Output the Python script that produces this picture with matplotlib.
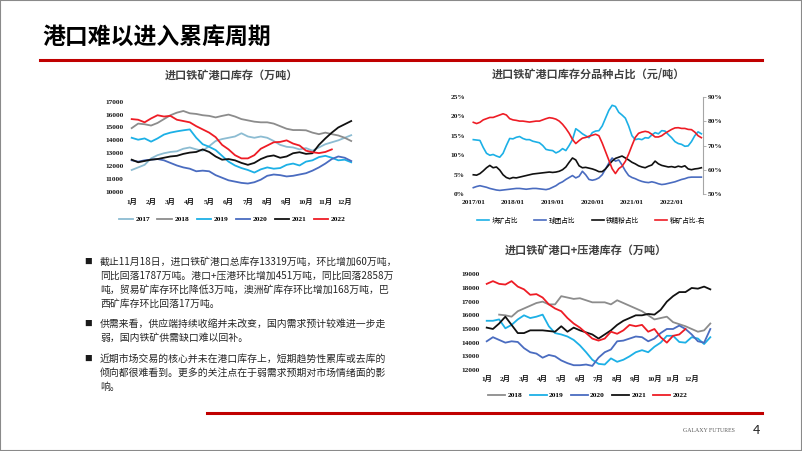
import numpy as np
import matplotlib
matplotlib.use("Agg")
import matplotlib.pyplot as plt
from matplotlib.patches import Rectangle
from matplotlib.lines import Line2D

plt.rcParams['font.family'] = ['Liberation Serif', 'Noto Sans CJK SC']
plt.rcParams['axes.unicode_minus'] = False

W, H = 802, 451
SANS = ['Noto Sans CJK SC', 'DejaVu Sans']
SERIF = ['Liberation Serif', 'Noto Sans CJK SC']

# ---------------- data ----------------
months = ['1月', '2月', '3月', '4月', '5月', '6月', '7月', '8月', '9月', '10月', '11月', '12月']

# chart 1: port inventory (10k t), sampled every third of a month from 1月
years1 = ['2017', '2018', '2019', '2020', '2021', '2022']
inv17 = [11700, 11900, 12100, 12600, 12850, 13000, 13100, 13150, 13350, 13450, 13300, 13200,
         13550, 13950, 14100, 14200, 14300, 14550, 14300, 14200, 14300, 14200, 13950, 13650,
         13500, 13450, 13300, 13400, 13200, 13450, 13700, 13850, 14000, 14200, 14400]
inv18 = [14950, 15300, 15250, 15150, 15350, 15650, 15950, 16150, 16280, 16100, 16050, 15950,
         15900, 15780, 15900, 16000, 15850, 15650, 15550, 15450, 15400, 15400, 15300, 15100,
         14900, 14800, 14800, 14780, 14600, 14480, 14600, 14480, 14380, 14200, 13950]
inv19 = [14200, 14050, 14150, 13900, 14150, 14450, 14600, 14700, 14780, 14850, 14200, 13700,
         13500, 13250, 12800, 12350, 12050, 11850, 11700, 11500, 11750, 11900, 11800, 11850,
         12100, 12200, 12050, 12350, 12450, 12700, 12800, 12650, 12450, 12500, 12300]
inv20 = [12450, 12350, 12450, 12500, 12550, 12450, 12250, 12050, 11900, 11800, 11600, 11650,
         11600, 11300, 11100, 10900, 10800, 10700, 10650, 10750, 10950, 11250, 11350, 11300,
         11200, 11250, 11350, 11450, 11650, 11900, 12200, 12550, 12750, 12650, 12400]
inv21 = [12500, 12300, 12400, 12500, 12550, 12650, 12750, 12800, 12950, 13050, 13100, 13300,
         13100, 12750, 12500, 12550, 12450, 12250, 12100, 12250, 12550, 12750, 12830, 12650,
         12750, 13000, 13080, 12950, 13000, 13650, 14150, 14600, 15000, 15250, 15500]
inv22 = [15650, 15600, 15400, 15700, 15950, 15850, 15900, 15600, 15500, 15400, 15100, 14850,
         14600, 14250, 13650, 13300, 12850, 12600, 12600, 12850, 13350, 13600, 13850, 13880,
         14000, 13750, 13600, 13200, 13080, 13010, 13100, 13300]

# chart 2: share by type (%), monthly from 2017/01
share_ticks = ['2017/01', '2018/01', '2019/01', '2020/01', '2021/01', '2022/01']
lump = [14.0, 13.9, 13.8, 12.0, 10.5, 10.0, 10.2, 9.8, 9.5, 10.5,
        12.5, 14.3, 14.2, 14.6, 14.8, 14.3, 14.0, 14.0, 13.6, 13.4,
        13.2, 12.5, 11.5, 11.3, 11.2, 10.6, 11.0, 11.7, 11.2, 12.5,
        14.0, 16.8, 16.2, 15.5, 15.0, 14.5, 15.8, 16.2, 16.3, 17.5,
        19.5, 21.5, 22.8, 22.5, 21.0, 20.3, 19.5, 17.5, 15.0, 14.0,
        14.2, 14.0, 14.5, 14.4, 15.2, 15.8, 15.5, 16.3, 16.2, 15.3,
        14.5, 13.5, 13.0, 12.8, 12.3, 12.4, 13.5, 15.0, 16.0, 15.5]
pellet = [1.7, 2.0, 2.2, 2.0, 1.8, 1.5, 1.3, 1.1, 1.0, 1.1,
          1.2, 1.3, 1.4, 1.5, 1.5, 1.4, 1.3, 1.4, 1.5, 1.5,
          1.4, 1.3, 1.2, 1.4, 1.8, 2.2, 2.8, 3.2, 3.8, 4.3,
          4.8, 4.2, 4.6, 5.9, 5.0, 3.8, 3.6, 3.8, 4.2, 5.0,
          6.5, 8.0, 9.3, 8.5, 8.8, 7.5, 6.0, 4.8, 4.3, 4.0,
          3.6, 3.3, 3.1, 3.0, 3.2, 3.0, 2.7, 2.5, 2.6, 2.8,
          3.0, 3.2, 3.5, 3.8, 4.0, 4.3, 4.4, 4.4, 4.4, 4.4]
concentrate = [5.0, 4.9, 5.3, 6.0, 6.8, 7.4, 6.8, 7.0, 6.2, 5.0,
               4.3, 4.0, 4.3, 4.2, 4.4, 4.6, 4.8, 5.0, 5.2, 5.3,
               5.4, 5.5, 5.6, 5.7, 5.6, 5.7, 5.9, 6.3, 7.0, 8.2,
               9.3, 8.8, 7.3, 6.8, 6.9, 6.7, 6.5, 6.2, 5.8, 5.8,
               6.5, 7.5, 8.5, 9.2, 9.5, 9.8, 9.3, 8.8, 8.2, 7.8,
               7.3, 7.0, 6.8, 7.2, 7.5, 8.5, 7.8, 7.4, 7.2, 7.0,
               7.1, 6.9, 7.2, 7.0, 7.3, 6.5, 6.3, 6.5, 6.6, 6.8]
fines = [79.5, 79.0, 79.5, 80.5, 81.0, 81.5, 81.5, 82.0, 82.5, 83.0,
         82.5, 81.0, 80.5, 80.3, 80.0, 80.0, 79.8, 79.6, 79.8, 80.0,
         80.0, 80.5, 81.0, 81.4, 81.2, 80.8, 80.0, 78.7, 77.0, 75.0,
         72.5, 70.8, 72.0, 73.0, 73.3, 73.8, 74.2, 74.6, 74.0, 71.0,
         67.5, 64.0, 60.5, 58.5, 60.5, 61.5, 63.5, 66.5, 70.0, 73.3,
         75.0, 75.5, 75.8, 75.5, 74.6, 73.5, 73.5, 74.0, 75.0, 75.8,
         76.6, 77.2, 77.3, 77.0, 77.0, 76.6, 76.5, 75.5, 74.0, 73.2]

# chart 3: port + waiting-at-port inventory (10k t), every third of a month
years3 = ['2018', '2019', '2020', '2021', '2022']
port18 = [np.nan, np.nan, 16050, 16000, 15900, 16300, 16500, 16700, 16900, 17000, 16800, 16800,
          17400, 17300, 17200, 17250, 17100, 16950, 16950, 16950, 16800, 17100, 16900, 16700,
          16500, 16300, 16000, 15700, 15800, 15900, 15500, 15350, 15200, 15000, 14800, 14900, 15400]
port19 = [15600, 15600, 15700, 15050, 15300, 15700, 16000, 15800, 15900, 16050, 15200, 14700,
          14600, 14450, 14200, 13800, 13300, 12750, 12450, 12400, 12850, 12600, 12750, 13000,
          13300, 13450, 13300, 13700, 14000, 14500, 14500, 14050, 14000, 14400, 14300, 13900, 14400]
port20 = [14100, 14400, 14200, 14000, 14100, 14050, 13600, 13300, 13200, 12900, 13100, 13000,
          12700, 12500, 12350, 12350, 12400, 12300, 12900, 13300, 13500, 14100, 14150, 14300,
          14450, 14400, 14100, 14300, 14700, 15000, 15000, 15250, 15000, 14600, 14100, 14000, 15000]
port21 = [15100, 15000, 15400, 15900, 15300, 14700, 14700, 14900, 14900, 14900, 14850, 14800,
          15200, 14800, 15100, 14900, 14750, 14600, 14300, 14600, 14900, 15300, 15600, 15800,
          16000, 16000, 16100, 16050, 16400, 17000, 17400, 17700, 17700, 18000, 17950, 18100, 17900]
port22 = [18300, 18500, 18300, 18250, 18500, 18100, 17900, 17500, 17550, 17300, 16800, 16500,
          16300, 15800, 15400, 15100, 14700, 14300, 14150, 14300, 14800, 14650, 14900, 15300,
          15200, 15300, 14800, 15000, 14400, 14000, 14500, 14600, 15000]

year_colors = {'2017': '#8cbcd2', '2018': '#8c8c8c', '2019': '#1cb0e6',
               '2020': '#4a6cc0', '2021': '#111111', '2022': '#ee1c25'}

bullets = [
    ['截止11月18日，进口铁矿港口总库存13319万吨，环比增加60万吨，',
     '同比回落1787万吨。港口+压港环比增加451万吨，同比回落2858万',
     '吨，贸易矿库存环比降低3万吨，澳洲矿库存环比增加168万吨，巴',
     '西矿库存环比回落17万吨。'],
    ['供需来看，供应端持续收缩并未改变，国内需求预计较难进一步走',
     '弱，国内铁矿供需缺口难以回补。'],
    ['近期市场交易的核心并未在港口库存上，短期趋势性累库或去库的',
     '倾向都很难看到。更多的关注点在于弱需求预期对市场情绪面的影',
     '响。'],
]

# ---------------- figure ----------------
fig = plt.figure(figsize=(W / 100, H / 100), dpi=100)


def px_axes(l, t, r, b):
    return fig.add_axes([l / W, 1 - b / H, (r - l) / W, (b - t) / H])


def fxy(x, y):
    return x / W, 1 - y / H


def clean(ax, labelsize=5.3, ypad=2, xpad=4.4):
    for s in ax.spines.values():
        s.set_visible(False)
    ax.tick_params(axis='both', length=0, labelsize=labelsize, colors='#1a1a1a')
    ax.tick_params(axis='y', pad=ypad)
    ax.tick_params(axis='x', pad=xpad)
    for lab in ax.get_xticklabels() + ax.get_yticklabels():
        lab.set_fontweight('bold')
    ax.patch.set_alpha(0)


def legend(ax, handles, labels, x, y, hl=2.0, cs=1.0, size=5.3, weight='bold'):
    lg = ax.legend(handles, labels, loc='center', bbox_to_anchor=fxy(x, y),
                   bbox_transform=fig.transFigure, ncol=len(labels), frameon=False,
                   handlelength=hl, handletextpad=0.3, columnspacing=cs, borderpad=0,
                   prop={'family': SERIF, 'size': size, 'weight': weight})
    return lg


# slide decorations
fig.patches.append(Rectangle((0, 0), 1, 1, transform=fig.transFigure, fill=False,
                             ec='#8a8a8a', lw=1.5))
fig.add_artist(Line2D([40 / W, 762 / W], [1 - 60 / H] * 2, color='#c00000', lw=2.2))
fig.add_artist(Line2D([207 / W, 762 / W], [1 - 413 / H] * 2, color='#c00000', lw=2.2))
fig.text(*fxy(42, 37), '港口难以进入累库周期', family=SANS, weight='heavy', fontsize=16.5,
         va='center', ha='left', color='#000000')
fig.text(*fxy(709, 431), 'GALAXY FUTURES', family=['Liberation Serif'], fontsize=4.2,
         va='center', ha='center', color='#595959')
fig.text(*fxy(756, 431), '4', family=SANS, fontsize=9.5, va='center', ha='center',
         color='#262626')

# chart titles
fig.text(*fxy(232, 75), '进口铁矿港口库存（万吨）', family=SANS, weight='bold',
         fontsize=8, ha='center', va='center', color='#404040')
fig.text(*fxy(588, 75), '进口铁矿港口库存分品种占比（元/吨）', family=SANS, weight='bold',
         fontsize=8, ha='center', va='center', color='#404040')
fig.text(*fxy(586, 250), '进口铁矿港口+压港库存（万吨）', family=SANS, weight='bold',
         fontsize=8, ha='center', va='center', color='#404040')

# ---- chart 1 ----
t1 = 1 + np.arange(len(inv17)) / 3
ax1 = px_axes(126, 101.7, 355, 191.9)
for yr, vals in zip(years1, [inv17, inv18, inv19, inv20, inv21, inv22]):
    ax1.plot(t1[:len(vals)], vals, color=year_colors[yr], lw=1.3, label=yr)
ax1.set_xlim(0.706, 12.53)
ax1.set_ylim(10000, 17000)
ax1.set_yticks(range(10000, 17001, 1000))
ax1.set_xticks(range(1, 13))
ax1.set_xticklabels(months)
clean(ax1, ypad=2, xpad=4.4)
h, l = ax1.get_legend_handles_labels()
legend(ax1, h, l, 232, 219)

# ---- chart 2 ----
k = np.arange(len(lump))
ax2 = px_axes(470, 96.7, 702.7, 194.3)
ax2.plot(k, lump, color='#1cb0e6', lw=1.2, label='块矿占比')
ax2.plot(k, pellet, color='#4a6cc0', lw=1.2, label='球团占比')
ax2.plot(k, concentrate, color='#111111', lw=1.2, label='铁精粉占比')
ax2.set_xlim(-1, 69.4)
ax2.set_ylim(0, 25)
ax2.set_yticks(range(0, 26, 5))
ax2.set_yticklabels([f'{v}%' for v in range(0, 26, 5)])
ax2.set_xticks(range(0, 61, 12))
ax2.set_xticklabels(share_ticks)
clean(ax2, ypad=3.6, xpad=4.3)
ax2r = ax2.twinx()
ax2r.plot(k, fines, color='#ee1c25', lw=1.2, label='粉矿占比-右')
ax2r.set_ylim(50, 90)
ax2r.set_yticks(range(50, 91, 10))
ax2r.set_yticklabels([f'{v}%' for v in range(50, 91, 10)])
clean(ax2r, ypad=1.5)
ax2r.spines['right'].set_visible(True)
ax2r.spines['right'].set_color('#a6a6a6')
ax2r.spines['right'].set_linewidth(0.8)
ax2r.tick_params(axis='y', length=2, width=0.6, direction='out', color='#a6a6a6')
h2, l2 = ax2.get_legend_handles_labels()
h3, l3 = ax2r.get_legend_handles_labels()
legend(ax2r, h2 + h3, l2 + l3, 591, 220, hl=1.8, cs=2.5, size=4.8, weight='normal')

# ---- chart 3 ----
t3 = 1 + np.arange(len(port18)) / 3
ax3 = px_axes(483, 274.3, 712, 370)
for yr, vals in zip(years3, [port18, port19, port20, port21, port22]):
    ax3.plot(t3[:len(vals)], vals, color=year_colors[yr], lw=1.3, label=yr)
ax3.set_xlim(0.80, 13.09)
ax3.set_ylim(12000, 19000)
ax3.set_yticks(range(12000, 19001, 1000))
ax3.set_xticks(range(1, 13))
ax3.set_xticklabels(months)
clean(ax3, ypad=2.2, xpad=3.8)
h, l = ax3.get_legend_handles_labels()
legend(ax3, h, l, 588, 395, hl=2.3)

# ---- bullet text ----
para_top = [262, 324, 359]
line_gap = 14
for top, lines in zip(para_top, bullets):
    fig.text(*fxy(88, top), '■', family=SANS, fontsize=5.5, ha='center', va='center',
             color='#1a1a1a')
    for i, line in enumerate(lines):
        fig.text(*fxy(100, top + i * line_gap), line, family=SANS, fontsize=7.1,
                 ha='left', va='center', color='#262626')

fig.savefig('out.png', dpi=100)
